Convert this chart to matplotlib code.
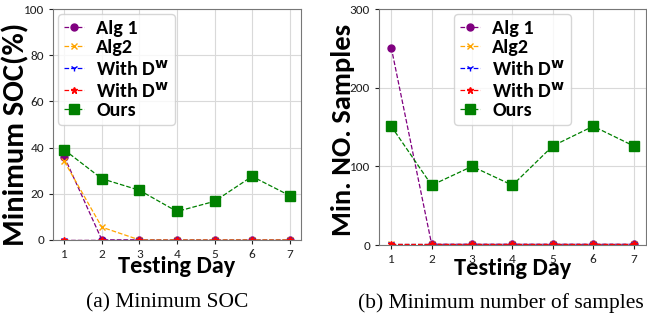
import matplotlib
matplotlib.use("Agg")
import matplotlib.pyplot as plt
from matplotlib import font_manager

days = [1, 2, 3, 4, 5, 6, 7]

# minimum SOC (%)
soc_alg1 = [36, 0, 0, 0, 0, 0, 0]
soc_alg2 = [34, 5.5, 0, 0, 0, 0, 0]
soc_dw_a = [0, 0, 0, 0, 0, 0, 0]
soc_dw_b = [0, 0, 0, 0, 0, 0, 0]
soc_ours = [39, 26.5, 21.5, 12.3, 16.7, 27.5, 19.2]

# minimum number of samples
smp_alg1 = [251, 1, 1, 1, 1, 1, 1]
smp_alg2 = [1, 1, 1, 1, 1, 1, 1]
smp_dw_a = [1, 1, 1, 1, 1, 1, 1]
smp_dw_b = [1, 1, 1, 1, 1, 1, 1]
smp_ours = [151, 76, 100, 76, 126, 151, 126]

labels = ["Alg 1", "Alg2", r"With D$^\mathbf{w}$", r"With D$^\mathbf{w}$", "Ours"]

names = {f.name for f in font_manager.fontManager.ttflist}
narrow = "DejaVu Sans"
for cand in ["Carlito", "Roboto Condensed", "Liberation Sans Narrow", "Open Sans Condensed",
             "Noto Sans Condensed", "DejaVu Sans Condensed"]:
    if cand in names:
        narrow = cand
        break
scale = 1.0 if narrow != "DejaVu Sans" else 0.8


def draw(ax, series, ymax, yticks, ylabel, ysize, ylab_xy, xpad, legend_loc):
    styles = [('purple', 'o'), ('orange', 'x'), ('blue', '1'), ('red', '*'), ('green', 's')]
    for (c, m), y, lab in zip(styles, series, labels):
        ms = 6.5 if m == 's' else 5
        ax.plot(days, y, '--', color=c, marker=m, markersize=ms, linewidth=0.9, label=lab)
    ax.set_ylim(0, ymax)
    ax.set_xlim(0.7, 7.3)
    ax.set_xticks(days)
    ax.set_yticks(yticks)
    ax.grid(True, color='#d9d9d9', linewidth=0.8)
    for s in ax.spines.values():
        s.set_color('#777777')
    ax.tick_params(labelsize=9.5, colors='#222222', length=3)
    for t in ax.get_xticklabels() + ax.get_yticklabels():
        t.set_family(narrow)
    ax.set_xlabel("Testing Day", fontsize=17.5 * scale, fontweight='bold', family=narrow, labelpad=xpad)
    ax.set_ylabel(ylabel, fontsize=ysize * scale, fontweight='bold', family=narrow)
    ax.yaxis.set_label_coords(*ylab_xy)
    ax.legend(loc=legend_loc, prop={'family': narrow, 'weight': 'bold', 'size': 14.5 * scale},
              handlelength=1.0, labelspacing=0.1, borderpad=0.3, handletextpad=0.6,
              borderaxespad=0.25, framealpha=0.8)


fig = plt.figure(figsize=(6.47, 3.22), dpi=100)
ax1 = fig.add_axes([0.082, 0.255, 0.383, 0.717])
ax2 = fig.add_axes([0.586, 0.239, 0.412, 0.733])

draw(ax1, [soc_alg1, soc_alg2, soc_dw_a, soc_dw_b, soc_ours], 100, [0, 20, 40, 60, 80, 100],
     "Minimum SOC(%)", 22, (-0.095, 0.455), -3, 'upper left')
draw(ax2, [smp_alg1, smp_alg2, smp_dw_a, smp_dw_b, smp_ours], 300, [0, 100, 200, 300],
     "Min. NO. Samples", 20.5, (-0.09, 0.487), -5, 'upper center')

fig.text(0.259, 0.045, "(a) Minimum SOC", ha='center', family='Liberation Serif', fontsize=15.5)
fig.text(0.774, 0.045, "(b) Minimum number of samples", ha='center', family='Liberation Serif', fontsize=15.5)

fig.savefig("out.png", dpi=100)
